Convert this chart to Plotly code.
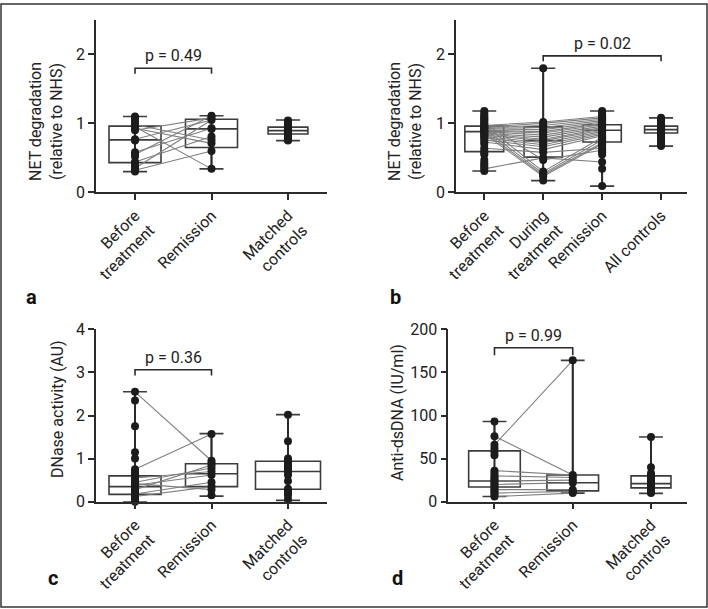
import plotly.graph_objects as go

W, H = 708, 609
FONT = "Roboto"
FS = 16
DARK = "#2b2b2b"
BOXC = "#3c3c3c"
PAIRC = "#7f7f7f"

# ---------------- Panel a ----------------
a_cats = ["Before<br>treatment", "Remission", "Matched<br>controls"]
a_before = [1.10, 1.08, 1.05, 1.01, 0.98, 0.95, 0.93, 0.90, 0.77, 0.75, 0.58, 0.55,
            0.52, 0.44, 0.42, 0.38, 0.35, 0.32, 0.30]
a_remission = [1.11, 1.08, 1.05, 0.93, 0.92, 0.81, 0.76, 0.71, 0.60, 0.34]
a_controls = [1.04, 1.03, 1.01, 0.99, 0.97, 0.95, 0.94, 0.93, 0.92, 0.91, 0.90, 0.89,
              0.88, 0.87, 0.86, 0.85, 0.84, 0.82, 0.80, 0.78, 0.76, 0.75]
a_q1 = [0.43, 0.65, 0.845]
a_median = [0.76, 0.92, 0.895]
a_q3 = [0.96, 1.06, 0.945]
a_low = [0.30, 0.34, 0.75]
a_high = [1.10, 1.11, 1.05]
a_pair_before = [0.95, 0.93, 0.98, 0.90, 0.77, 0.55, 0.58, 0.44, 0.35, 0.32]
a_pair_remission = [0.34, 0.71, 0.76, 1.08, 1.05, 1.11, 0.93, 0.81, 1.05, 0.60]

# ---------------- Panel b ----------------
b_cats = ["Before<br>treatment", "During<br>treatment", "Remission", "All controls"]
b_before = [1.18, 1.15, 1.12, 1.10, 1.08, 1.06, 1.04, 1.02, 1.00, 0.98, 0.97, 0.95,
            0.94, 0.93, 0.92, 0.90, 0.89, 0.88, 0.86, 0.85, 0.83, 0.81, 0.79, 0.76,
            0.73, 0.70, 0.64, 0.60, 0.57, 0.55, 0.47, 0.43, 0.40, 0.37, 0.34, 0.31]
b_during = [1.80, 1.02, 1.00, 0.97, 0.94, 0.91, 0.88, 0.86, 0.83, 0.80, 0.77, 0.75,
            0.72, 0.69, 0.66, 0.62, 0.58, 0.50, 0.47, 0.30, 0.27, 0.25, 0.23, 0.17]
b_remission = [1.18, 1.15, 1.12, 1.10, 1.08, 1.06, 1.04, 1.02, 1.00, 0.98, 0.96, 0.94,
               0.92, 0.90, 0.88, 0.86, 0.84, 0.82, 0.80, 0.78, 0.76, 0.74, 0.72, 0.70,
               0.67, 0.64, 0.61, 0.58, 0.55, 0.44, 0.34, 0.09]
b_controls = [1.08, 1.06, 1.04, 1.02, 1.00, 0.98, 0.97, 0.96, 0.95, 0.94, 0.93, 0.92,
              0.91, 0.90, 0.89, 0.88, 0.87, 0.86, 0.85, 0.83, 0.81, 0.79, 0.76, 0.73,
              0.70, 0.67]
b_q1 = [0.59, 0.51, 0.73, 0.86]
b_median = [0.88, 0.75, 0.90, 0.91]
b_q3 = [0.96, 0.95, 0.98, 0.96]
b_low = [0.31, 0.17, 0.09, 0.67]
b_high = [1.18, 1.80, 1.18, 1.08]
b_pair_before = [0.97, 0.95, 0.94, 0.93, 0.92, 0.90, 0.89, 0.88, 0.86, 0.85, 0.83,
                 0.81, 0.79, 0.76, 0.73, 0.98, 0.92, 0.88, 0.85, 0.64, 0.34, 1.00]
b_pair_during = [1.02, 1.00, 0.97, 0.94, 0.91, 0.88, 0.86, 0.83, 0.80, 0.77, 0.75,
                 0.72, 0.69, 0.66, 0.62, 0.30, 0.27, 0.25, 0.23, 0.58, 0.50, 0.47]
b_pair_remission = [1.10, 1.08, 1.06, 1.04, 1.02, 1.00, 0.98, 0.96, 0.94, 0.92, 0.90,
                    0.88, 0.86, 0.84, 0.82, 0.80, 0.76, 0.72, 0.70, 0.64, 0.44, 0.61]

# ---------------- Panel c ----------------
c_cats = ["Before<br>treatment", "Remission", "Matched<br>controls"]
c_before = [2.55, 2.35, 1.75, 1.15, 1.00, 0.75, 0.70, 0.65, 0.60, 0.55, 0.50, 0.45,
            0.42, 0.38, 0.35, 0.32, 0.28, 0.25, 0.22, 0.18, 0.15, 0.12, 0.08, 0.05,
            0.02, 0.00]
c_remission = [1.57, 0.95, 0.90, 0.85, 0.78, 0.70, 0.62, 0.45, 0.35, 0.28, 0.15]
c_controls = [2.02, 1.40, 1.00, 0.96, 0.92, 0.88, 0.84, 0.80, 0.76, 0.72, 0.68, 0.62,
              0.48, 0.30, 0.25, 0.20, 0.15, 0.05]
c_q1 = [0.17, 0.35, 0.29]
c_median = [0.35, 0.65, 0.70]
c_q3 = [0.60, 0.88, 0.94]
c_low = [0.00, 0.13, 0.03]
c_high = [2.55, 1.58, 2.02]
c_pair_before = [2.55, 0.75, 0.55, 0.45, 0.38, 0.28, 0.18, 0.42, 0.12]
c_pair_remission = [0.95, 1.57, 0.70, 0.78, 0.62, 0.85, 0.45, 0.28, 0.35]

# ---------------- Panel d ----------------
d_cats = ["Before<br>treatment", "Remission", "Matched<br>controls"]
d_before = [93, 76, 66, 62, 58, 54, 36, 33, 30, 28, 26, 24, 22, 20, 18, 16, 14, 12,
            10, 8, 6]
d_remission = [164, 31, 28, 25, 22, 14, 12, 10]
d_controls = [75, 40, 33, 31, 29, 27, 25, 23, 21, 19, 17, 15, 13, 11, 10]
d_q1 = [17, 12.5, 16]
d_median = [24, 22, 21]
d_q3 = [59, 31, 30]
d_low = [6, 10, 9.7]
d_high = [93, 164, 75]
d_pair_before = [66, 76, 36, 30, 24, 20, 14, 10, 6]
d_pair_remission = [164, 31, 31, 28, 25, 22, 14, 12, 10]

fig = go.Figure()


def add_panel(n, q1, med, q3, low, high, box_widths, box_px, groups, pair_cols):
    xa = "x" if n == 1 else f"x{n}"
    ya = "y" if n == 1 else f"y{n}"
    for i in range(len(q1)):
        fig.add_trace(go.Box(
            x=[i], q1=[q1[i]], median=[med[i]], q3=[q3[i]],
            lowerfence=[low[i]], upperfence=[high[i]],
            width=box_widths[i], whiskerwidth=min(1, 24 / box_px[i]),
            fillcolor="rgba(0,0,0,0)", line=dict(color=BOXC, width=1.6),
            boxpoints=False, xaxis=xa, yaxis=ya, showlegend=False, hoverinfo="skip"))
    # paired lines
    lx, ly = [], []
    for k in range(len(pair_cols[0])):
        for j, col in enumerate(pair_cols):
            lx.append(j)
            ly.append(col[k])
        lx.append(None)
        ly.append(None)
    fig.add_trace(go.Scatter(x=lx, y=ly, mode="lines", line=dict(color=PAIRC, width=1.1),
                             xaxis=xa, yaxis=ya, showlegend=False, hoverinfo="skip",
                             cliponaxis=False))
    # whisker spine (dark vertical) and points
    for i, vals in enumerate(groups):
        fig.add_trace(go.Scatter(x=[i, i], y=[low[i], high[i]], mode="lines",
                                 line=dict(color=DARK, width=2), xaxis=xa, yaxis=ya,
                                 showlegend=False, hoverinfo="skip", cliponaxis=False))
        fig.add_trace(go.Scatter(x=[i] * len(vals), y=vals, mode="markers",
                                 marker=dict(color="#1c1c1c", size=8),
                                 xaxis=xa, yaxis=ya, showlegend=False,
                                 cliponaxis=False))


add_panel(1, a_q1, a_median, a_q3, a_low, a_high, [0.68, 0.68, 0.52], [52, 52, 40],
          [a_before, a_remission, a_controls], [a_pair_before, a_pair_remission])
add_panel(2, b_q1, b_median, b_q3, b_low, b_high, [0.66, 0.65, 0.65, 0.56],
          [39, 38, 38, 33], [b_before, b_during, b_remission, b_controls],
          [b_pair_before, b_pair_during, b_pair_remission])
add_panel(3, c_q1, c_median, c_q3, c_low, c_high, [0.68, 0.68, 0.85], [52, 52, 65],
          [c_before, c_remission, c_controls], [c_pair_before, c_pair_remission])
add_panel(4, d_q1, d_median, d_q3, d_low, d_high, [0.66, 0.66, 0.51], [52, 52, 40],
          [d_before, d_remission, d_controls], [d_pair_before, d_pair_remission])


def dom_x(p0, p1):
    return [p0 / W, p1 / W]


def dom_y(top_px, bottom_px):
    return [1 - bottom_px / H, 1 - top_px / H]


tickfont = dict(family=FONT, size=FS, color="#222")
axis_common = dict(showline=True, linecolor=DARK, linewidth=1.5, ticks="outside",
                   ticklen=6, tickwidth=1.5, tickcolor=DARK, showgrid=False,
                   zeroline=False, tickfont=tickfont, automargin=False)

layout = dict(
    width=W, height=H, margin=dict(l=0, r=0, t=0, b=0),
    paper_bgcolor="white", plot_bgcolor="white", showlegend=False,
    font=dict(family=FONT, size=FS, color="#222"),
    xaxis=dict(domain=dom_x(96, 327), range=[-0.51, 2.51], tickvals=[0, 1, 2],
               ticktext=a_cats, tickangle=-45, anchor="y", **axis_common),
    yaxis=dict(domain=dom_y(20, 192.3), range=[0, 2.5], tickvals=[0, 1, 2],
               anchor="x", **axis_common),
    xaxis2=dict(domain=dom_x(456, 687), range=[-0.48, 3.44], tickvals=[0, 1, 2, 3],
                ticktext=b_cats, tickangle=-45, anchor="y2", **axis_common),
    yaxis2=dict(domain=dom_y(20, 192.3), range=[0, 2.5], tickvals=[0, 1, 2],
                anchor="x2", **axis_common),
    xaxis3=dict(domain=dom_x(96, 327), range=[-0.51, 2.51], tickvals=[0, 1, 2],
                ticktext=c_cats, tickangle=-45, anchor="y3", **axis_common),
    yaxis3=dict(domain=dom_y(329.3, 501.7), range=[0, 4], tickvals=[0, 1, 2, 3, 4],
                anchor="x3", **axis_common),
    xaxis4=dict(domain=dom_x(448.3, 687), range=[-0.59, 2.46], tickvals=[0, 1, 2],
                ticktext=d_cats, tickangle=-45, anchor="y4", **axis_common),
    yaxis4=dict(domain=dom_y(329.3, 501.7), range=[0, 200],
                tickvals=[0, 50, 100, 150, 200], anchor="x4", **axis_common),
)
fig.update_layout(**layout)

# significance brackets
brackets = [
    ("x", "y", 0, 1, 1.80, 0.08, "p = 0.49"),
    ("x2", "y2", 1, 3, 1.98, 0.08, "p = 0.02"),
    ("x3", "y3", 0, 1, 3.06, 0.13, "p = 0.36"),
    ("x4", "y4", 0, 1, 178.6, 8.6, "p = 0.99"),
]
for xr, yr, x0, x1, yv, drop, txt in brackets:
    fig.add_shape(type="path", xref=xr, yref=yr,
                  path=f"M {x0},{yv - drop} L {x0},{yv} L {x1},{yv} L {x1},{yv - drop}",
                  line=dict(color=DARK, width=1.6))
    fig.add_annotation(x=(x0 + x1) / 2, y=yv, xref=xr, yref=yr, text=txt,
                       showarrow=False, yanchor="bottom", yshift=1,
                       font=dict(family=FONT, size=FS, color="#222"))

# y-axis titles
ytitles = [
    (46, 122, "NET degradation<br>(relative to NHS)"),
    (405, 122, "NET degradation<br>(relative to NHS)"),
    (57, 409, "DNase activity (AU)"),
    (398, 413, "Anti-dsDNA (IU/ml)"),
]
for px, py, txt in ytitles:
    fig.add_annotation(x=px / W, y=1 - py / H, xref="paper", yref="paper", text=txt,
                       textangle=-90, showarrow=False, xanchor="center",
                       yanchor="middle", font=dict(family=FONT, size=FS, color="#222"))

# panel letters
letters = [(31, 297, "a"), (396, 297, "b"), (53, 578, "c"), (397, 578, "d")]
for px, py, txt in letters:
    fig.add_annotation(x=px / W, y=1 - py / H, xref="paper", yref="paper",
                       text=f"<b>{txt}</b>", showarrow=False, xanchor="center",
                       yanchor="middle", font=dict(family=FONT, size=20, color="#111"))

# outer frame
fig.add_shape(type="rect", xref="paper", yref="paper", x0=1 / W, x1=707 / W,
              y0=1 - 607 / H, y1=1 - 4 / H, line=dict(color="#333", width=1.5))

fig.write_html("out.html", config={"displayModeBar": False},
               post_script="document.body.style.margin='0';"
                           "document.body.style.padding='0';")
